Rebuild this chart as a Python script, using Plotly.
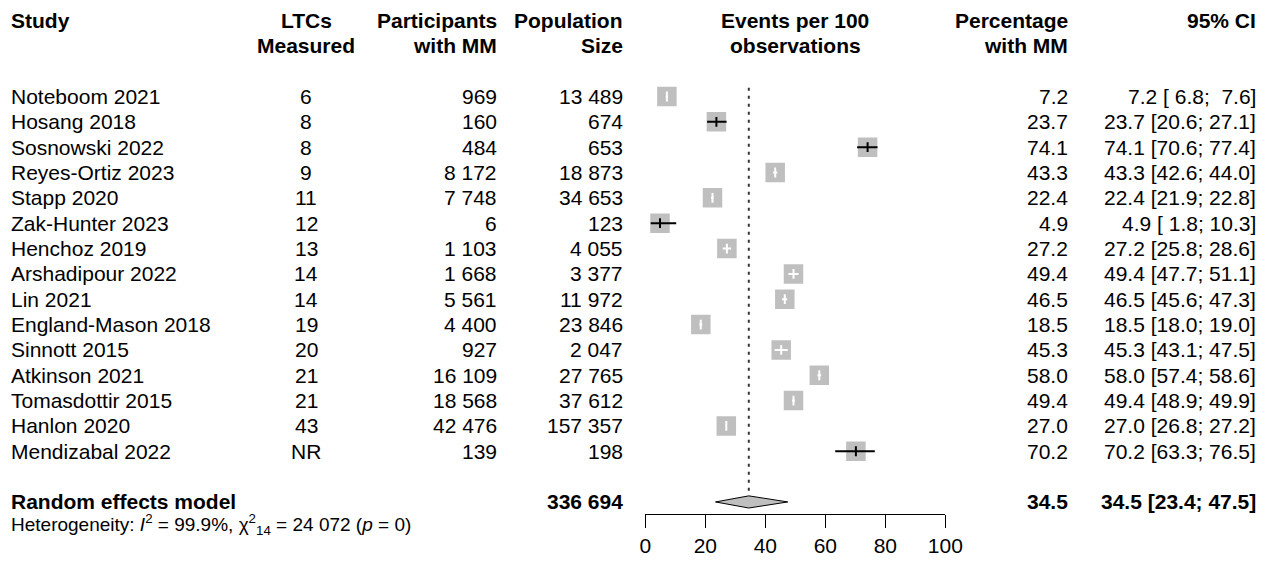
import plotly.graph_objects as go

# ---------------- data ----------------
studies = ["Noteboom 2021", "Hosang 2018", "Sosnowski 2022", "Reyes-Ortiz 2023", "Stapp 2020",
           "Zak-Hunter 2023", "Henchoz 2019", "Arshadipour 2022", "Lin 2021", "England-Mason 2018",
           "Sinnott 2015", "Atkinson 2021", "Tomasdottir 2015", "Hanlon 2020", "Mendizabal 2022"]
ltcs = ["6", "8", "8", "9", "11", "12", "13", "14", "14", "19", "20", "21", "21", "43", "NR"]
participants = [969, 160, 484, 8172, 7748, 6, 1103, 1668, 5561, 4400, 927, 16109, 18568, 42476, 139]
population = [13489, 674, 653, 18873, 34653, 123, 4055, 3377, 11972, 23846, 2047, 27765, 37612, 157357, 198]
pct = [7.2, 23.7, 74.1, 43.3, 22.4, 4.9, 27.2, 49.4, 46.5, 18.5, 45.3, 58.0, 49.4, 27.0, 70.2]
lower = [6.8, 20.6, 70.6, 42.6, 21.9, 1.8, 25.8, 47.7, 45.6, 18.0, 43.1, 57.4, 48.9, 26.8, 63.3]
upper = [7.6, 27.1, 77.4, 44.0, 22.8, 10.3, 28.6, 51.1, 47.3, 19.0, 47.5, 58.6, 49.9, 27.2, 76.5]
pooled_est, pooled_lo, pooled_hi = 34.5, 23.4, 47.5
total_population = 336694
tick_vals = [0, 20, 40, 60, 80, 100]
het_text = ("Heterogeneity: <i>I</i><sup>2</sup> = 99.9%, χ<sup>2</sup><sub>14</sub> = 24\u00a0072 "
            "(<i>p</i> = 0)")

# ---------------- layout constants ----------------
W, H = 1266, 566
OFF = 8                   # page offset of the figure (body margin)
FONT = "Liberation Sans, Arial, sans-serif"
FS = 21
SQ = 19.5                 # square side in px
PX_PER_UNIT = 3.0         # forest axis px per unit
row_y = list(range(len(studies)))
pooled_y = len(studies) + 1
het_y = pooled_y + 0.9
hdr1, hdr2 = -3.0, -2.0


def fmt_int(n):
    return f"{n:,}".replace(",", "\u00a0")


def pad(v, w=4):
    s = f"{v:.1f}"
    return "\u00a0" * (w - len(s)) + s


def ci_text(e, lo, hi):
    return f"{e:.1f} [{pad(lo)}; {pad(hi)}]"


def px2paper(px):
    return (px - OFF) / W


fig = go.Figure()

# squares
fig.add_trace(go.Scatter(x=pct, y=row_y, mode="markers",
                         marker=dict(symbol="square", size=SQ, color="#BFBFBF",
                                     line=dict(width=0)),
                         hoverinfo="skip", showlegend=False))

# CI lines: black if exceeding the square, white if inside
half_units = (SQ / 2) / PX_PER_UNIT
bx, by, wx, wy = [], [], [], []
bpx, bpy, wpx, wpy = [], [], [], []
for e, lo, hi, y in zip(pct, lower, upper, row_y):
    outside = (e - lo) > half_units or (hi - e) > half_units
    if outside:
        bx += [lo, hi, None]; by += [y, y, None]; bpx.append(e); bpy.append(y)
    else:
        wx += [lo, hi, None]; wy += [y, y, None]; wpx.append(e); wpy.append(y)

fig.add_trace(go.Scatter(x=wx, y=wy, mode="lines", line=dict(color="white", width=2),
                         hoverinfo="skip", showlegend=False))
fig.add_trace(go.Scatter(x=bx, y=by, mode="lines", line=dict(color="black", width=2),
                         hoverinfo="skip", showlegend=False))
fig.add_trace(go.Scatter(x=wpx, y=wpy, mode="markers",
                         marker=dict(symbol="line-ns", size=7, line=dict(color="white", width=2)),
                         hoverinfo="skip", showlegend=False))
fig.add_trace(go.Scatter(x=bpx, y=bpy, mode="markers",
                         marker=dict(symbol="line-ns", size=7, line=dict(color="black", width=2)),
                         hoverinfo="skip", showlegend=False))

# reference dotted line at pooled estimate
dh = 0.24
fig.add_trace(go.Scatter(x=[pooled_est, pooled_est], y=[-0.35, pooled_y - dh], mode="lines",
                         line=dict(color="#333333", width=2, dash="3px,5px"),
                         hoverinfo="skip", showlegend=False))

# diamond
fig.add_trace(go.Scatter(x=[pooled_lo, pooled_est, pooled_hi, pooled_est, pooled_lo],
                         y=[pooled_y, pooled_y - dh, pooled_y, pooled_y + dh, pooled_y],
                         mode="lines", fill="toself", fillcolor="#BFBFBF",
                         line=dict(color="black", width=1),
                         hoverinfo="skip", showlegend=False))

# ---------------- text columns ----------------
ann = []


def add(text, xpx, y, anchor, bold=False, size=FS):
    if bold:
        text = f"<b>{text}</b>"
    ann.append(dict(text=text, x=px2paper(xpx), y=y, xref="paper", yref="y",
                    xanchor=anchor, yanchor="middle", showarrow=False,
                    font=dict(family=FONT, size=size, color="black")))


X_STUDY, X_LTC, X_PART, X_POP, X_EV, X_PCT, X_CI = 9, 306, 499, 625, 795, 1070, 1258

# headers
add("Study", X_STUDY, hdr1, "left", True)
add("LTCs", X_LTC, hdr1, "center", True)
add("Measured", X_LTC, hdr2, "center", True)
add("Participants", X_PART, hdr1, "right", True)
add("with MM", X_PART, hdr2, "right", True)
add("Population", X_POP, hdr1, "right", True)
add("Size", X_POP, hdr2, "right", True)
add("Events per 100", X_EV, hdr1, "center", True)
add("observations", X_EV, hdr2, "center", True)
add("Percentage", X_PCT, hdr1, "right", True)
add("with MM", X_PCT, hdr2, "right", True)
add("95% CI", X_CI, hdr1, "right", True)

for i, y in enumerate(row_y):
    add(studies[i], X_STUDY, y, "left")
    add(ltcs[i], X_LTC, y, "center")
    add(fmt_int(participants[i]), X_PART, y, "right")
    add(fmt_int(population[i]), X_POP, y, "right")
    add(f"{pct[i]:.1f}", X_PCT, y, "right")
    add(ci_text(pct[i], lower[i], upper[i]), X_CI, y, "right")

add("Random effects model", X_STUDY, pooled_y, "left", True)
add(fmt_int(total_population), X_POP, pooled_y, "right", True)
add(f"{pooled_est:.1f}", X_PCT, pooled_y, "right", True)
add(ci_text(pooled_est, pooled_lo, pooled_hi), X_CI, pooled_y, "right", True)
add(het_text, X_STUDY, het_y, "left", False, 19)

# ---------------- axes ----------------
row0_px, row_px = 96.5 - OFF, 25.34
y_top = -row0_px / row_px
y_bot = (H - row0_px) / row_px
axis_px = 514 - OFF
ax_left, ax_right = 645.3, 945.3

fig.update_layout(
    template="none",
    autosize=False,
    width=W, height=H,
    margin=dict(l=0, r=0, t=0, b=0, pad=0, autoexpand=False),
    paper_bgcolor="white", plot_bgcolor="white",
    font=dict(family=FONT, size=FS, color="black"),
    showlegend=False,
    annotations=ann,
    xaxis=dict(domain=[px2paper(ax_left), px2paper(ax_right)], range=[0, 100], anchor="free",
               position=(H - axis_px) / H, showgrid=False, zeroline=False,
               automargin=False,
               showline=True, linecolor="black", linewidth=1,
               ticks="outside", ticklen=13, tickwidth=1, tickcolor="black",
               tickvals=tick_vals, ticktext=[str(v) for v in tick_vals],
               tickfont=dict(family=FONT, size=FS, color="black")),
    yaxis=dict(domain=[0, 1], range=[y_bot, y_top], visible=False, automargin=False,
               showgrid=False, zeroline=False),
)

fig.write_html("out.html")
